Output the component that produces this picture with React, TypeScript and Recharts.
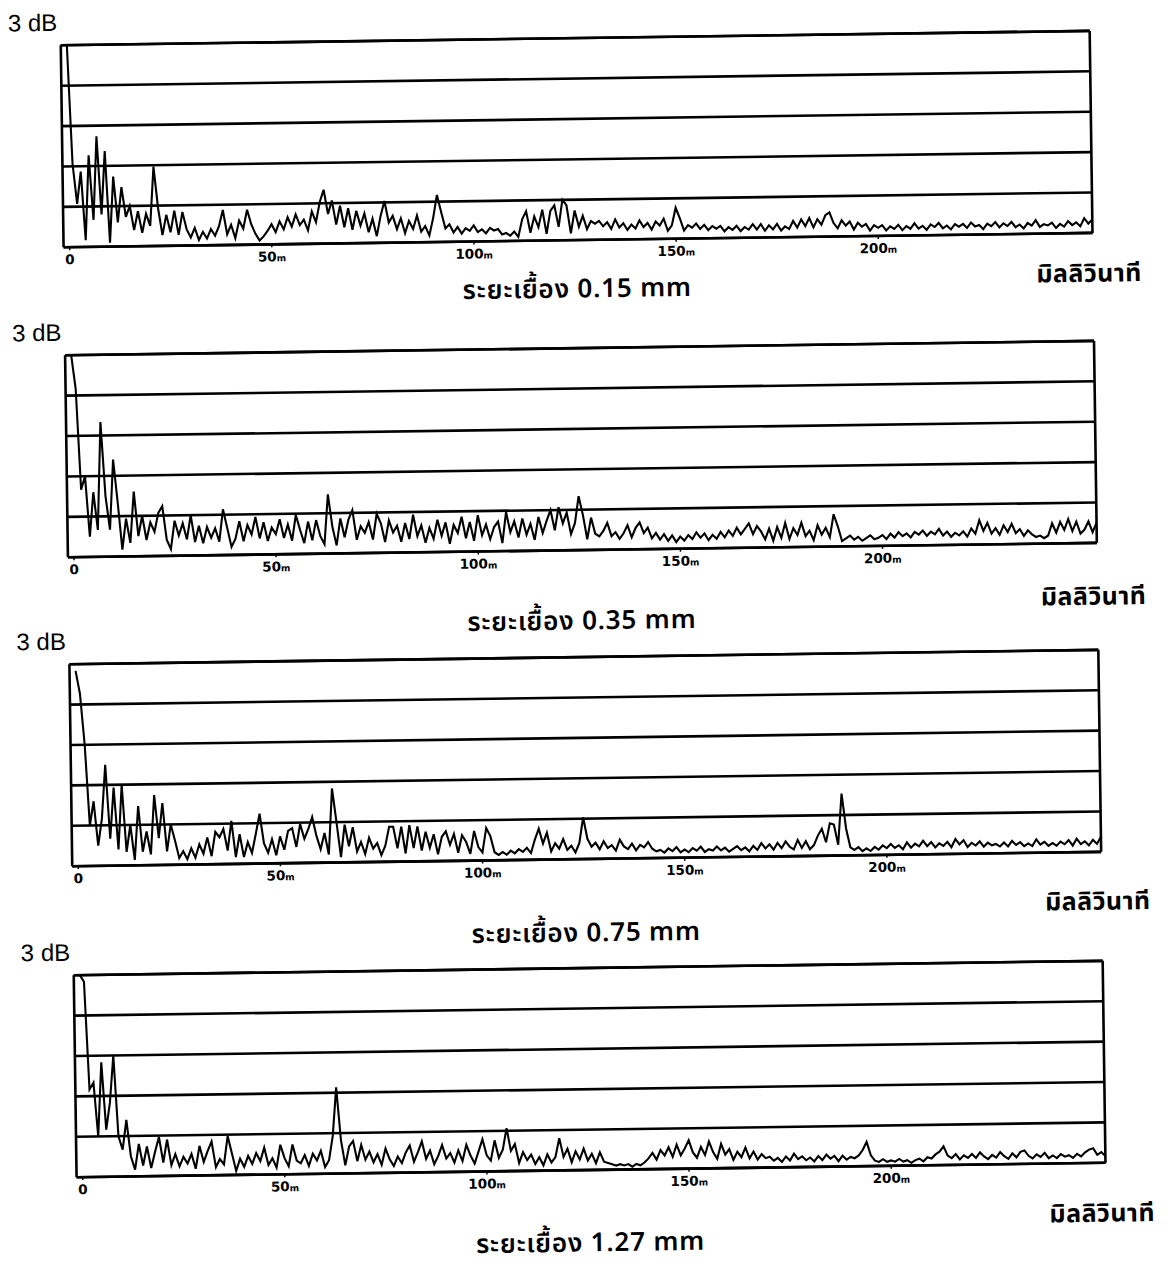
import React from 'react';
import { LineChart, Line, XAxis, YAxis, CartesianGrid, ReferenceLine } from 'recharts';

// Level in dB, one reading per ms from 0 to 253 ms
const offset015 = [
  15, 6.2, 3.2, 5.6, 0.5, 6.8, 2.0, 8.2, 2.4, 7.1,
  0.3, 5.2, 1.8, 4.4, 2.2, 3.0, 1.2, 2.6, 1.0, 2.4,
  1.5, 5.9, 2.8, 0.8, 2.3, 1.0, 2.6, 0.8, 2.5, 1.2,
  0.6, 1.3, 0.4, 1.0, 0.5, 1.2, 0.7, 1.4, 2.6, 0.8,
  1.5, 0.5, 1.8, 1.2, 2.6, 1.5, 0.8, 0.3, 0.6, 1.0,
  1.5, 0.9, 1.7, 1.1, 2.0, 1.3, 2.2, 1.4, 1.8, 1.0,
  2.4, 1.6, 3.1, 4.0, 2.2, 3.2, 1.4, 2.8, 1.2, 2.6,
  1.0, 2.4, 1.3, 2.2, 0.8, 1.8, 0.5, 2.0, 3.1, 1.5,
  2.0, 1.0, 1.8, 0.7, 1.6, 1.0, 2.0, 0.8, 1.2, 0.5,
  1.8, 3.5, 2.2, 1.0, 1.3, 0.7, 1.1, 0.6, 1.0, 0.8,
  1.2, 0.7, 0.9, 0.6, 1.0, 0.8, 0.9, 0.5, 0.6, 0.4,
  0.7, 0.3, 1.6, 2.2, 0.6, 1.8, 1.0, 2.3, 0.5, 2.2,
  2.6, 1.0, 3.0, 2.6, 0.5, 2.2, 1.0, 1.8, 0.8, 1.4,
  1.2, 1.4, 1.0, 1.3, 0.8, 1.5, 0.9, 1.2, 0.7, 1.1,
  0.8, 1.4, 0.9, 1.2, 0.7, 1.3, 1.0, 1.5, 0.6, 1.0,
  2.3, 1.5, 0.6, 1.0, 0.8, 1.1, 0.7, 1.0, 0.6, 0.9,
  0.7, 0.9, 0.5, 0.8, 0.6, 0.9, 0.5, 0.8, 0.6, 1.0,
  0.6, 1.0, 0.5, 0.9, 0.6, 1.0, 0.5, 0.8, 0.6, 1.2,
  0.7, 1.3, 0.8, 1.4, 0.7, 1.3, 0.9, 1.6, 1.8, 1.0,
  0.6, 1.2, 0.8, 1.1, 0.5, 1.0, 0.7, 0.9, 0.4, 0.8,
  0.6, 0.8, 0.4, 0.7, 0.5, 0.8, 0.4, 0.7, 0.5, 0.9,
  0.5, 0.7, 0.4, 0.8, 0.6, 0.9, 0.5, 0.7, 0.4, 0.8,
  0.6, 0.8, 0.5, 0.9, 0.6, 0.7, 0.4, 0.8, 0.6, 0.9,
  0.5, 0.8, 0.6, 0.9, 0.5, 0.7, 0.4, 0.8, 0.6, 1.0,
  0.5, 0.7, 0.6, 0.8, 0.4, 0.7, 0.5, 0.9, 0.6, 0.8,
  0.5, 1.1, 0.7, 1.0,
];

const offset035 = [
  15, 12.5, 5.0, 6.0, 1.5, 4.8, 2.0, 10.0, 4.5, 2.0,
  7.2, 4.0, 0.5, 2.8, 1.0, 4.8, 1.5, 3.0, 1.2, 2.5,
  1.8, 3.2, 3.7, 1.2, 0.5, 2.6, 1.5, 2.4, 1.2, 3.0,
  1.0, 2.2, 0.9, 2.1, 1.3, 2.0, 1.0, 3.4, 2.0, 0.6,
  1.2, 2.5, 1.0, 2.2, 1.5, 2.8, 1.2, 2.4, 1.0, 2.0,
  1.5, 2.6, 1.2, 2.2, 1.0, 2.9, 1.8, 0.8, 2.4, 1.0,
  2.5, 1.3, 0.7, 4.4, 2.0, 0.6, 2.6, 1.2, 2.5, 3.2,
  1.0, 2.0, 1.5, 2.3, 1.0, 2.9, 2.2, 0.8, 2.4, 1.5,
  2.0, 0.8, 2.2, 1.0, 2.8, 1.2, 2.0, 0.7, 1.8, 1.0,
  2.4, 1.2, 2.2, 0.6, 2.0, 1.4, 2.6, 1.0, 2.2, 0.8,
  2.7, 1.2, 2.0, 0.9, 1.8, 2.2, 0.6, 2.9, 1.4, 2.2,
  1.0, 2.4, 1.2, 2.0, 0.8, 2.5, 1.3, 2.2, 3.0, 1.5,
  3.2, 2.0, 2.8, 1.2, 2.0, 4.0, 2.6, 0.8, 2.4, 1.2,
  1.0, 1.4, 2.0, 1.0, 1.3, 0.8, 1.2, 1.8, 0.9, 1.6,
  2.0, 1.2, 1.6, 0.8, 1.2, 0.7, 1.1, 0.6, 1.0, 0.5,
  0.9, 0.6, 1.0, 0.7, 1.2, 0.8, 1.1, 0.6, 1.0, 0.7,
  1.2, 0.8, 1.3, 0.9, 1.5, 1.0, 1.4, 1.8, 1.0, 1.6,
  1.2, 0.6, 1.4, 0.5, 1.5, 0.7, 1.8, 0.6, 1.4, 0.9,
  1.8, 0.8, 1.2, 0.5, 1.6, 0.9, 1.4, 0.7, 2.4, 1.5,
  0.4, 0.6, 0.8, 0.5, 0.7, 0.4, 0.6, 0.8, 0.5, 0.6,
  0.8, 0.5, 0.9, 0.6, 1.0, 0.7, 0.9, 0.6, 1.0, 0.8,
  1.1, 0.7, 1.0, 0.8, 1.2, 0.7, 1.0, 0.6, 0.9, 0.7,
  1.0, 0.6, 1.2, 0.8, 1.8, 1.0, 1.6, 0.8, 1.2, 0.7,
  1.4, 0.9, 1.5, 0.8, 1.1, 0.6, 1.0, 0.7, 0.5, 0.6,
  0.4, 0.6, 1.5, 0.8, 1.6, 1.0, 1.8, 0.9, 1.6, 0.7,
  1.0, 1.6, 0.8, 1.5,
];

const offset075 = [
  14.5, 12.8, 9.0, 3.0, 4.8, 1.5, 3.5, 7.5, 2.0, 5.8,
  1.2, 6.0, 1.0, 3.0, 0.4, 4.4, 1.0, 2.5, 0.8, 5.2,
  2.0, 4.6, 1.0, 3.0, 1.8, 0.5, 1.0, 0.4, 1.2, 0.5,
  1.5, 0.8, 2.0, 0.6, 2.4, 2.0, 2.6, 1.0, 3.2, 0.5,
  2.2, 0.5, 1.6, 0.8, 2.2, 3.7, 1.5, 0.8, 1.8, 0.6,
  2.0, 1.0, 2.4, 2.6, 1.2, 2.9, 1.8, 2.5, 3.4, 2.0,
  1.0, 2.2, 0.6, 5.5, 3.0, 0.4, 2.8, 1.2, 2.6, 0.8,
  1.5, 0.6, 1.8, 1.0, 1.4, 0.5, 1.2, 2.6, 2.6, 1.0,
  2.6, 0.6, 2.7, 1.0, 2.6, 0.8, 2.2, 1.0, 2.0, 0.5,
  1.8, 2.2, 1.2, 2.0, 0.6, 1.9, 1.4, 0.5, 2.2, 1.0,
  0.6, 2.4, 1.8, 0.6, 0.4, 0.6, 0.4, 0.7, 0.5, 0.8,
  0.6, 0.9, 0.5, 1.5, 2.3, 1.2, 2.0, 0.6, 1.2, 0.8,
  1.5, 0.7, 1.0, 0.5, 1.2, 3.1, 1.5, 0.9, 1.2, 0.7,
  1.3, 0.8, 1.0, 0.6, 1.4, 0.9, 0.7, 1.1, 0.6, 1.0,
  0.8, 1.2, 0.7, 0.5, 0.6, 0.4, 0.7, 0.5, 0.8, 0.4,
  0.6, 0.4, 0.7, 0.5, 0.8, 0.4, 0.6, 0.5, 0.8, 0.5,
  0.7, 0.4, 0.6, 0.8, 0.5, 0.7, 0.4, 0.8, 0.5, 1.0,
  0.6, 0.9, 0.5, 1.0, 0.6, 1.1, 0.7, 0.5, 1.2, 0.6,
  1.1, 0.5, 0.8, 1.5, 2.0, 1.0, 2.4, 2.3, 0.8, 4.6,
  2.0, 0.6, 0.4, 0.6, 0.3, 0.5, 0.3, 0.6, 0.4, 0.7,
  0.5, 0.8, 0.5, 0.7, 0.4, 0.9, 0.5, 0.8, 0.6, 1.0,
  0.6, 0.9, 0.5, 0.8, 0.6, 0.9, 0.5, 1.1, 0.7, 1.0,
  0.5, 0.8, 0.6, 0.9, 0.5, 0.8, 0.6, 0.7, 0.5, 0.8,
  0.5, 0.9, 0.6, 0.8, 0.5, 0.7, 0.5, 1.0, 0.6, 0.8,
  0.5, 0.7, 0.5, 0.8, 0.6, 0.9, 0.5, 1.0, 0.6, 0.8,
  0.5, 0.9, 0.6, 1.1,
];

const offset127 = [
  15, 14.5, 6.5, 7.0, 3.0, 8.5, 3.5, 5.5, 9.0, 3.0,
  2.0, 4.2, 1.5, 0.5, 2.4, 0.8, 2.2, 0.6, 1.8, 2.9,
  1.0, 2.7, 0.8, 1.6, 0.7, 1.4, 0.9, 1.6, 0.5, 2.2,
  1.0, 1.8, 2.5, 0.6, 1.2, 0.8, 2.9, 1.6, 0.3, 1.2,
  0.6, 1.4, 0.8, 1.6, 1.0, 2.0, 0.7, 1.2, 0.5, 2.2,
  1.2, 0.6, 2.2, 1.0, 0.8, 1.4, 0.6, 1.5, 1.0, 1.7,
  0.5, 1.0, 2.8, 6.4, 2.5, 0.6, 2.0, 2.4, 0.9, 2.1,
  1.0, 1.6, 0.8, 1.4, 0.6, 1.8, 1.0, 0.5, 1.2, 0.7,
  1.5, 2.0, 0.8, 1.5, 2.3, 1.0, 1.6, 0.6, 1.2, 2.0,
  1.0, 1.4, 0.7, 1.6, 0.8, 2.0, 1.2, 0.6, 1.5, 2.4,
  1.2, 0.8, 2.3, 1.0, 1.6, 3.2, 1.5, 2.0, 0.6, 1.4,
  0.8, 1.2, 0.5, 1.0, 0.4, 1.2, 0.6, 1.0, 2.4, 1.0,
  1.6, 0.6, 1.4, 0.8, 1.6, 0.7, 1.2, 0.5, 1.3, 0.6,
  0.5, 0.4, 0.3, 0.4, 0.3, 0.4, 0.2, 0.4, 0.3, 0.5,
  0.8, 1.2, 0.7, 1.4, 1.0, 1.6, 0.9, 1.8, 1.0, 1.5,
  2.1, 1.2, 0.8, 1.6, 1.0, 2.0, 1.2, 0.7, 1.8, 1.0,
  1.4, 0.6, 1.2, 0.8, 1.5, 0.7, 1.2, 0.6, 1.0, 0.7,
  0.8, 0.5, 0.7, 0.4, 0.8, 0.5, 1.0, 0.6, 0.8, 0.5,
  0.7, 0.4, 0.8, 0.5, 0.9, 0.6, 0.8, 0.4, 0.8, 0.5,
  0.7, 0.6, 0.8, 1.2, 1.8, 0.8, 0.4, 0.3, 0.5, 0.3,
  0.4, 0.3, 0.5, 0.3, 0.4, 0.2, 0.4, 0.5, 0.3, 0.6,
  0.5, 0.8, 1.0, 1.4, 0.7, 0.5, 0.8, 0.4, 0.7, 0.5,
  0.8, 0.5, 0.9, 0.6, 0.4, 0.7, 0.5, 0.9, 0.6, 0.4,
  0.8, 0.5, 0.9, 1.0, 0.6, 0.4, 0.7, 0.5, 0.8, 0.4,
  0.6, 0.4, 0.7, 0.5, 0.6, 0.4, 0.7, 0.5, 0.8, 1.0,
  1.1, 0.6, 0.8, 0.5,
];

const offsetTitles = ['ระยะเยื้อง 0.15 mm', 'ระยะเยื้อง 0.35 mm', 'ระยะเยื้อง 0.75 mm', 'ระยะเยื้อง 1.27 mm'];
const msTicks = [0, 50, 100, 150, 200];
const dbLines = [0, 3, 6, 9, 12, 15];
const scaleLabel = '3 dB';
const unitLabel = 'มิลลิวินาที';

// page layout (scan is slightly tilted, handled by rotating the whole sheet)
const panelLayout = [
  { top: 38, subGap: 50, unitGap: 41 },
  { top: 348, subGap: 72, unitGap: 54 },
  { top: 657, subGap: 75, unitGap: 50 },
  { top: 968, subGap: 74, unitGap: 51 },
];

const PLOT_TOP = 40;
const PLOT_H = 202;
const THAI = "'Noto Sans Thai', 'Loma', 'Garuda', 'Tlwg Typo', 'DejaVu Sans', sans-serif";

const MsTick = (props: any) => {
  const { x, y, payload } = props;
  const v = payload.value;
  return (
    <text x={x} y={y + 12} textAnchor="middle" fill="#000"
      fontFamily="'DejaVu Sans', sans-serif" fontWeight="bold" fontSize={13.5}>
      {v}
      {v !== 0 && <tspan fontSize={9}>m</tspan>}
    </text>
  );
};

const Txt: React.FC<{ x: number; y: number; size: number; weight?: number; spacing?: number; font?: string; children: React.ReactNode }> =
  ({ x, y, size, weight = 400, spacing = 0, font = "'Liberation Sans', Arial, sans-serif", children }) => (
    <div style={{
      position: 'absolute', left: x, top: y, transform: 'translate(-50%, -50%)', letterSpacing: spacing,
      fontSize: size, fontWeight: weight, fontFamily: font, lineHeight: 1.05, whiteSpace: 'nowrap', color: '#000',
    }}>
      {children}
    </div>
  );

interface PanelProps {
  values: number[];
  title: string;
  top: number;
  subGap: number;
  unitGap: number;
}

const Panel: React.FC<PanelProps> = ({ values, title, top, subGap, unitGap }) => {
  const rows = values.map((db, i) => ({ t: i, db }));
  const bottom = PLOT_TOP + PLOT_H;
  return (
    <div style={{ position: 'absolute', left: 0, top: top - PLOT_TOP, width: 1174, height: 330 }}>
      <Txt x={41} y={17} size={24}>{scaleLabel}</Txt>
      <LineChart width={1174} height={312} data={rows} margin={{ top: PLOT_TOP, right: 76, bottom: 50, left: 69 }}>
        <CartesianGrid vertical={false} horizontalValues={dbLines} stroke="#000" strokeWidth={2.6} />
        <XAxis type="number" dataKey="t" domain={[-1.5, 253]} ticks={msTicks} allowDataOverflow interval={0}
          axisLine={false} tickLine={{ stroke: '#000', strokeWidth: 1.5 }} tickSize={3} height={20} tick={<MsTick />} />
        <YAxis type="number" domain={[0, 15]} ticks={dbLines} hide />
        <ReferenceLine x={-1.5} stroke="#000" strokeWidth={2.6} />
        <ReferenceLine x={253} stroke="#000" strokeWidth={2.6} />
        <ReferenceLine y={0} stroke="#000" strokeWidth={2.6} />
        <ReferenceLine y={15} stroke="#000" strokeWidth={2.6} />
        <Line type="linear" dataKey="db" stroke="#000" strokeWidth={2.1} dot={false} isAnimationActive={false} />
      </LineChart>
      <Txt x={1094} y={bottom + unitGap} size={25} weight={700} spacing={0.5} font={THAI}>{unitLabel}</Txt>
      <Txt x={582} y={bottom + subGap} size={26} weight={600} spacing={0.8} font={THAI}>{title}</Txt>
    </div>
  );
};

const series = [offset015, offset035, offset075, offset127];

export default function App() {
  return (
    <div style={{
      position: 'absolute', left: 0, top: 0, width: 1174, height: 1263, background: '#fff', overflow: 'hidden',
      transform: 'rotate(-0.8deg)', transformOrigin: '587px 631px',
    }}>
      {panelLayout.map((p, i) => (
        <Panel key={i} values={series[i]} title={offsetTitles[i]} top={p.top} subGap={p.subGap} unitGap={p.unitGap} />
      ))}
    </div>
  );
}
